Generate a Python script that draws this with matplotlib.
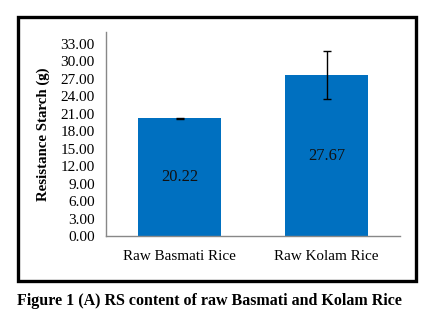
import matplotlib.pyplot as plt
from matplotlib.patches import Rectangle
import numpy as np

plt.rcParams['font.family'] = ['Liberation Serif', 'DejaVu Serif']

# data
categories = ['Raw Basmati Rice', 'Raw Kolam Rice']
values = [20.22, 27.67]
errors = [0.05, 4.1]
yticks = np.arange(0, 34, 3)

fig = plt.figure(figsize=(4.41, 3.32), dpi=100)
ax = fig.add_axes([0.2404, 0.2883, 0.6667, 0.6154])

x = np.arange(len(categories))
bars = ax.bar(x, values, width=0.57, color='#0070C0', zorder=2)
ax.errorbar(x, values, yerr=errors, fmt='none', ecolor='black', elinewidth=1,
            capsize=2.6, capthick=1, zorder=3)

for xi, v in zip(x, values):
    ax.text(xi, v / 2, '%.2f' % v, ha='center', va='center', fontsize=11.8, color='#111111')

ax.set_xlim(-0.5, 1.5)
ax.set_ylim(0, 35)
ax.set_yticks(yticks)
ax.set_yticklabels(['%.2f' % t for t in yticks], fontsize=11)
ax.set_xticks(x)
ax.set_xticklabels(categories, fontsize=10.9)
ax.tick_params(axis='both', length=0, pad=8)
ax.tick_params(axis='x', pad=10)

for s in ['top', 'right']:
    ax.spines[s].set_visible(False)
for s in ['left', 'bottom']:
    ax.spines[s].set_color('#888888')
    ax.spines[s].set_linewidth(1)

ax.set_ylabel('Resistance Starch (g)', fontsize=10.7, fontweight='bold', labelpad=8)

# black frame around the chart
fig.patches.append(Rectangle((18 / 441, 1 - 281 / 332), (416 - 18) / 441, (281 - 17) / 332,
                             transform=fig.transFigure, fill=False, edgecolor='black',
                             linewidth=2.4))

fig.text(17 / 441, 1 - 301 / 332, 'Figure 1 (A) RS content of raw Basmati and Kolam Rice',
         fontsize=11.5, fontweight='bold', va='center', ha='left')

plt.savefig('out.png', dpi=100)
